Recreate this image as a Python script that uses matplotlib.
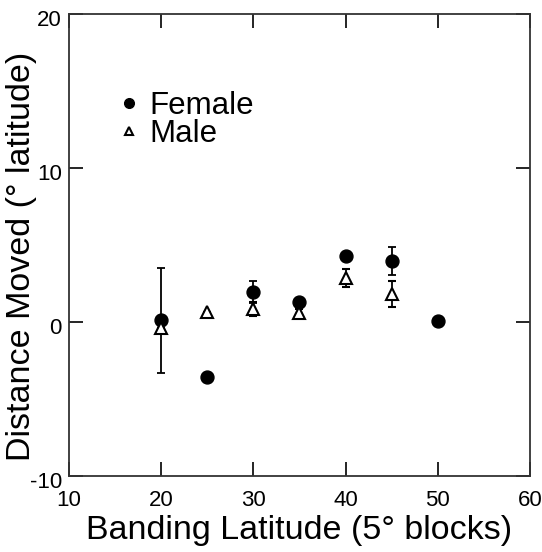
import numpy as np
import matplotlib
matplotlib.use("Agg")
import matplotlib.pyplot as plt
from matplotlib.transforms import ScaledTranslation

plt.rcParams['font.family'] = ['Liberation Sans', 'DejaVu Sans']
plt.rcParams['axes.unicode_minus'] = False

# data
lat_f = [20, 25, 30, 35, 40, 45, 50]
dist_f = [0.1, -3.6, 1.95, 1.3, 4.25, 3.95, 0.05]
err_f = [3.4, 0.0, 0.7, 0.15, 0.3, 0.9, 0.0]

lat_m = [20, 25, 30, 35, 40, 45]
dist_m = [-0.4, 0.65, 0.85, 0.6, 2.85, 1.8]
err_m = [0.0, 0.0, 0.45, 0.2, 0.6, 0.85]

fig = plt.figure(figsize=(5.42, 5.52), dpi=100)
ax = fig.add_axes([0.127, 0.138, 0.851, 0.837])

ax.errorbar(lat_f, dist_f, yerr=err_f, fmt='o', color='black', ms=9.3,
            ecolor='black', elinewidth=1.3, capsize=3, capthick=1.3, label='Female')
ax.errorbar(lat_m, dist_m, yerr=err_m, fmt='^', color='black', mfc='white', mew=1.5,
            ms=8, ecolor='black', elinewidth=1.3, capsize=3, capthick=1.3, label='Male')

ax.set_xlim(10, 60)
ax.set_ylim(-10, 20)
ax.set_xticks([10, 20, 30, 40, 50, 60])
ax.set_yticks([-10, 0, 10, 20])
ax.tick_params(direction='in', length=10, width=1.2, top=True, right=True,
               labelsize=16)
ax.tick_params(axis='x', pad=10)
ax.tick_params(axis='y', pad=5)
for s in ax.spines.values():
    s.set_linewidth(1.3)
    s.set_color('#333333')

# y tick labels sit a little below their ticks in the original
for lab in ax.get_yticklabels():
    lab.set_transform(lab.get_transform() + ScaledTranslation(0, -4/100, fig.dpi_scale_trans))

ax.set_xlabel('Banding Latitude (5° blocks)', fontsize=24.5, labelpad=3)
ax.set_ylabel('Distance Moved (° latitude)', fontsize=24.5)
ax.yaxis.set_label_coords(-0.07, 0.474)

h, l = ax.get_legend_handles_labels()
handles = [hh[0] for hh in h]
ax.legend(handles, l, loc='upper left', bbox_to_anchor=(0.035, 0.894), frameon=False,
          fontsize=22.5, handletextpad=0.15, labelspacing=-0.05, handlelength=1.0,
          markerscale=0.75)

fig.savefig('out.png', dpi=100)
